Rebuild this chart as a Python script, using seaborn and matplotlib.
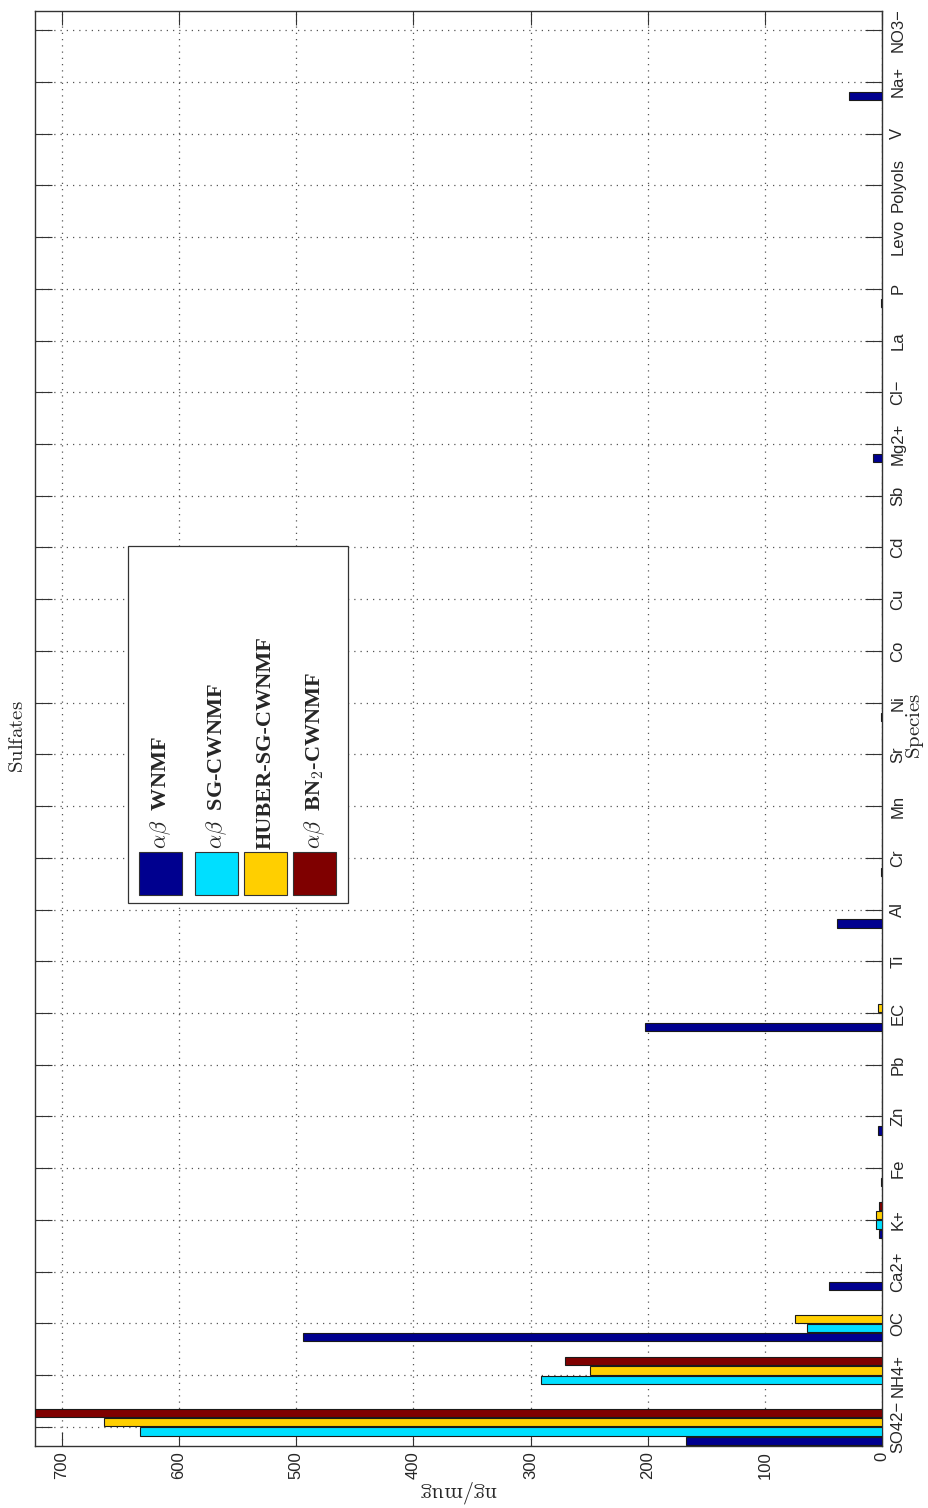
import numpy as np
import pandas as pd
import matplotlib
matplotlib.use("Agg")
import matplotlib.pyplot as plt
from matplotlib.patches import Rectangle
import seaborn as sns

# Chemical species (bottom to top along the category axis)
species = ["SO42\u2212", "NH4+", "OC", "Ca2+", "K+", "Fe", "Zn", "Pb", "EC", "Ti",
           "Al", "Cr", "Mn", "Sr", "Ni", "Co", "Cu", "Cd", "Sb", "Mg2+",
           "Cl\u2212", "La", "P", "Levo", "Polyols", "V", "Na+", "NO3\u2212"]

methods = ["WNMF", "SG-CWNMF", "HUBER-SG-CWNMF", "BN2-CWNMF"]
legend_labels = [r"$\alpha\beta\ $ WNMF", r"$\alpha\beta\ $ SG-CWNMF",
                 "HUBER-SG-CWNMF", r"$\alpha\beta\ $ BN$_2$-CWNMF"]

# Profile contributions (ng/mug) per method
wnmf = [167, 0, 494, 45, 2.5, 0.6, 3, 0, 202, 0,
        38, 1.2, 0, 0, 0.5, 0, 0, 0, 0, 8,
        0, 0, 0.5, 0, 0, 0, 28, 0]
sg_cwnmf = [633, 291, 64, 0, 5, 0, 0, 0, 0, 0,
            0, 0, 0, 0, 0, 0, 0, 0, 0, 0,
            0, 0, 0, 0, 0, 0, 0, 0]
huber_sg_cwnmf = [664, 249, 74, 0, 5, 0, 0, 0, 3, 0,
                  0, 0, 0, 0, 0, 0, 0, 0, 0, 0,
                  0, 0, 0, 0, 0, 0, 0, 0]
bn2_cwnmf = [723, 271, 0, 0, 2.5, 0, 0, 0, 0, 0,
             0, 0, 0, 0, 0, 0, 0, 0, 0, 0,
             0, 0, 0, 0, 0, 0, 0, 0]

value_ticks = [0, 100, 200, 300, 400, 500, 600, 700]
colors = ["#00008F", "#00DFFF", "#FFCF00", "#7F0000"]

df = pd.DataFrame({
    "species": species * 4,
    "method": np.repeat(methods, len(species)),
    "value": wnmf + sg_cwnmf + huber_sg_cwnmf + bn2_cwnmf,
})

sns.set_style("white")
plt.rcParams["mathtext.fontset"] = "cm"
plt.rcParams["font.family"] = ["Liberation Sans", "DejaVu Sans"]

W, H = 929, 1508
fig = plt.figure(figsize=(W / 100, H / 100), dpi=100)
ax = fig.add_axes([35 / W, 1 - 1446 / H, (882 - 35) / W, (1446 - 11) / H])

sns.barplot(data=df, x="value", y="species", hue="method", order=species,
            hue_order=methods, palette=colors, orient="h", width=0.72, gap=0.12,
            edgecolor="#1a1a1a", linewidth=0.8, errorbar=None, legend=False,
            saturation=1, ax=ax, zorder=3)

ax.set_xlim(723, 0)
ax.set_ylim(-0.37, len(species) - 1 + 0.37)
ax.set_xlabel("")
ax.set_ylabel("")

# value axis (bottom, reads right to left)
ax.set_xticks(value_ticks)
ax.set_xticklabels([str(v) for v in value_ticks], rotation=90, fontsize=12)
ax.tick_params(axis="x", which="both", bottom=True, top=True, direction="in",
               length=10, width=0.8, color="#333333", pad=4)

# category axis (right side)
ax.yaxis.tick_right()
ax.set_yticks(range(len(species)))
ax.set_yticklabels(species, rotation=90, va="center", ha="left", fontsize=12)
ax.tick_params(axis="y", which="both", left=True, right=True, labelleft=False,
               labelright=True, direction="in", length=12, width=0.8,
               color="#333333", pad=6)

ax.grid(True, linestyle=(0, (1, 4)), linewidth=0.9, color="#555555", zorder=0)
ax.set_axisbelow(True)
for sp in ax.spines.values():
    sp.set_color("#333333")
    sp.set_linewidth(1.0)

# rotated title and axis labels
ax.text(-0.021, 0.494, r"$\mathrm{Sulfates}$", transform=ax.transAxes, rotation=90,
        ha="center", va="center", fontsize=15)
ax.text(1.039, 0.502, r"$\mathrm{Species}$", transform=ax.transAxes, rotation=90,
        ha="center", va="center", fontsize=15)
ax.text(0.5, -0.032, r"$\mathrm{ng/mug}$", transform=ax.transAxes, rotation=180,
        ha="center", va="center", fontsize=16)

# legend box, drawn rotated to match the layout
def fx(px):
    return px / W

def fy(py):
    return 1 - py / H

tr = fig.transFigure
ax.add_patch(Rectangle((fx(128), fy(903)), fx(348) - fx(128), fy(546) - fy(903),
                       transform=tr, facecolor="white", edgecolor="#333333",
                       linewidth=0.9, zorder=10, clip_on=False))
patch_x = [139, 195, 244, 293]
for px, col, lab in zip(patch_x, colors, legend_labels):
    ax.add_patch(Rectangle((fx(px), fy(895)), fx(43), 43 / H, transform=tr,
                           facecolor=col, edgecolor="#333333", linewidth=0.8,
                           zorder=11, clip_on=False))
    ax.text(fx(px + 21.5), fy(849), lab, transform=tr, rotation=90, ha="center",
            va="bottom", fontsize=16, fontweight="bold",
            family=["Liberation Serif", "DejaVu Serif"], zorder=12)

fig.savefig("out.png", dpi=100)
